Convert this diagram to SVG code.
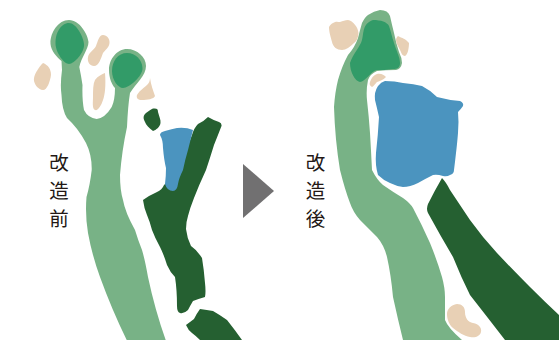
<svg xmlns="http://www.w3.org/2000/svg" width="559" height="340" viewBox="0 0 559 340">
<style>
.f{fill:#78b286}.g{fill:#329b68}.b{fill:#e8d0b5}.w{fill:#4b94bf}.t{fill:#256031}
text{font-family:"Noto Sans CJK JP","Noto Sans CJK SC",sans-serif;font-size:19.500px;fill:#231815;text-anchor:middle}
</style>
<rect width="559" height="340" fill="#fff"/>
<g id="before">
<path class="f" d="M69 20C58 20 50 33 50.500 44C51 51 57 57 61.500 61L62 70Q60 85 61.500 95Q62 110 67 118Q78 128 86 143Q92 155 91.700 170Q90 185 86.500 197Q85 215 88 233Q92 255 100 277Q112 310 126.700 340H165.700Q155 310 148 277Q145 260 142 250Q138 240 135 230Q125 212 123 200Q120 190 120 175Q122 150 127 127Q128 105 130 93C136 83 146 76 146 66C146 57 137 49 127 49C117 49 109 59 109 70C109 78 112 85 115 88Q115 100 111.700 107Q105 118 96.700 119Q88 118 84 110Q82 100 82.500 85Q81 75 79.300 67C81 58 88.500 49 88.500 42C88 35 80 20 69 20Z"/>
<path class="g" d="M69 23C61 23 55 33 55.500 44C56 53 64 64 69 64C74 64 85 52 84 44C83 36 76 23 69 23Z"/>
<path class="g" d="M127 53C118 53 112 61 112 71C112 80 118 88 123 88C129 88 143 76 142.500 68C142 60 136 53 127 53Z"/>
<path class="b" d="M43 63C48 65 51 69 51 75C50 82 47 90 43 90C38 90 33 83 34 78C35 73 39 67 43 63Z"/>
<path class="b" d="M103 35C107 35 110 39 109.500 43C109 48 105 50 103 53C101 58 99 66 94 66C90 66 87 62 88 57C89 52 94 50 96 46C98 41 99 35 103 35Z"/>
<path class="b" d="M105 73C106 85 105 95 103 100C101 106 98 111 95 110C92 109 93 102 93 97C93 90 93 84 95 80C98 76 102 74 105 73Z"/>
<path class="b" d="M150 78C151 85 153 90 155 96C154 99 147 100 142 100C138 100 136 98 137 95C140 90 145 87 147 85C149 83 150 81 150 78Z"/>
<path class="t" d="M153 108.500C157 108 158 109 158 112C159 116 161 120 160.500 123C160 127 156 130 153 131C149 128 146 125 145 122C143 118 143 116 146 113C149 111 151 109 153 108.500Z"/>
<path class="t" d="M208 117Q213 120 219 122Q222 123 221.500 126Q218 135 214 145Q210 158 206 170Q199 185 194 198Q190 208 188 216Q186 222 186 229Q187 238 191 246Q197 250 202 258Q204 270 205 283Q206 292 205 297Q198 299 193 301Q190 306 188 310Q184 314 180 313Q177 312 177 306Q177 290 175 277Q170 272 167 265Q164 255 160 247Q155 238 152 230Q150 222 147 215Q144 208 143 200Q150 195 157 192Q162 190 164 185L180 170Q186 150 192 135Q194 128 198 124Q203 122 208 117Z"/>
<path class="w" d="M160 135Q160 132 165 131Q172 129 177 128Q186 127 193 130Q190 142 188 150Q185 160 183 170Q179 178 178 184Q177 191 173 191Q167 191 165 184Q166 176 166 168Q164 160 163 148Q163 140 160 135Z"/>
<path class="t" d="M200 309Q207 310 213 311Q220 315 227 320Q235 330 242 340H200Q196 336 192 333Q188 330 186 325Q190 322 194 319Q197 313 200 309Z"/>
</g>
<g id="after">
<path class="f" d="M380 10Q388 10 390 16Q392 25 394 33Q396 43 399 52Q402 58 402 63Q401 69 396 70Q385 70 377 71Q370 74 368 80Q366 90 367 100Q369 118 370 133Q371 150 372 170Q377 180 383 185Q393 192 403 198Q410 203 413 208Q422 225 430 243Q437 260 442 277Q445 288 445 297Q445 310 445 320Q448 328 462 340H403Q398 320 393 297Q391 275 387 257Q384 245 377 237Q368 228 360 220Q353 212 350 203Q345 190 340 170Q335 140 334 107Q335 92 338 80Q342 66 348 55Q355 47 358 38Q360 30 362 23Q365 17 368 15Q374 11 380 10Z"/>
<path class="g" d="M373 20C381 20 387 22 389 26C391 32 392 37 394 43C396 50 400 57 400 63C400 68 397 69 393 69C387 70 381 70 377 70C371 71 365 82 360 82C355 81 350 72 350 63C353 54 360 47 362 40C364 33 362 24 373 20Z"/>
<path class="b" d="M333 23C336 21 338 22 340 22C343 21 345 20 348 20C353 21 358 27 358.500 33C358 38 357 41 354 43C350 47 346 50 342 50C337 50 333 47 332 42C330 35 329 31 329 27C330 25 331 24 333 23Z"/>
<path class="b" d="M398 36C402 38 406 39 409 43C409 47 408 55 405 56C402 56 401 52 400 50C398 46 396 43 396 40C396 38 397 37 398 36Z"/>
<path class="b" d="M377 74C381 73 384 75 386 77C383 80 380 81 377 82C375 84 373 87 372 87C370 86 369 84 370 82C372 77 374 75 377 74Z"/>
<path class="w" d="M385 81Q395 81 403 83Q414 84 422 86Q430 90 437 97Q448 100 460 101Q464 103 463 106Q461 109 458 112Q459 122 458 133Q457 145 456 153Q455 162 454 170Q454 174 450 175Q447 177 443 176Q437 174 433 175Q425 179 418 183Q410 187 403 187Q396 186 390 183Q383 180 378 175Q375 165 376 153Q378 135 379 117Q377 108 375 100Q374 92 378 86Q381 82 385 81Z"/>
<path class="t" d="M442 178Q446 182 450 190Q460 205 470 220Q483 238 497 253Q513 270 530 287Q545 302 559 315V340H505Q488 318 470 295Q461 277 453 257Q440 235 428 213Q426 209 428 204Q435 190 442 178Z"/>
<path class="b" d="M457 304C462 304 465 307 465 312C465 318 468 322 473 323C479 324 482 328 481 332C480 336 476 338 470 337C464 336 458 332 453 328C449 325 447 319 447 314C447 309 451 305 457 304Z"/>
</g>
<polygon id="arrow" fill="#717071" points="243,164 274,191 243,218"/>
<g id="labels">
<text x="59" y="169.500">改</text>
<text x="59" y="197.800">造</text>
<text x="59" y="226">前</text>
<text x="315.500" y="169.500">改</text>
<text x="315.500" y="197.800">造</text>
<text x="315.500" y="226">後</text>
</g>
</svg>
